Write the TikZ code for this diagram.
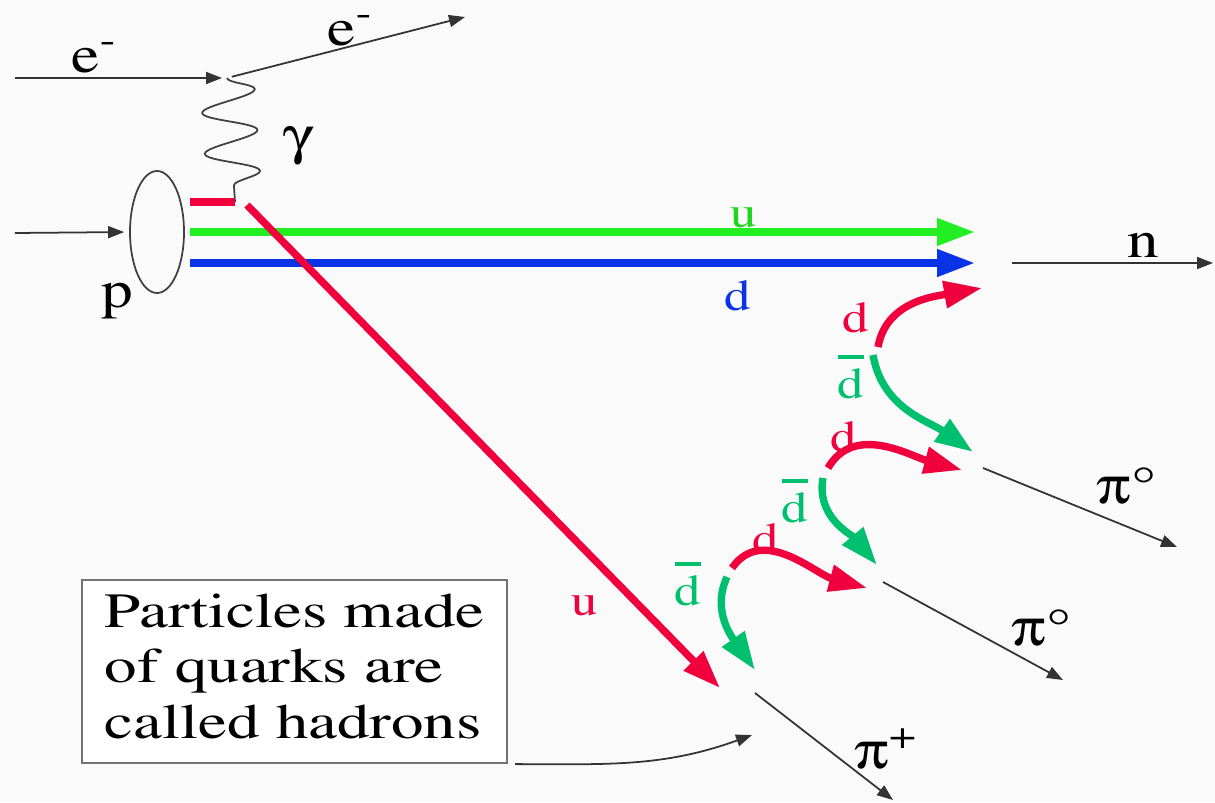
\documentclass[tikz,border=0pt]{standalone}
\usepackage[T1]{fontenc}
\usepackage{mathptmx}
\usepackage[Symbol]{upgreek}
\usepackage{graphicx}
\usetikzlibrary{arrows.meta, positioning, shapes.geometric, decorations.pathmorphing}
\definecolor{qRed}{HTML}{F0003C}
\definecolor{qLime}{HTML}{22EE22}
\definecolor{qBlue}{HTML}{0A32E6}
\definecolor{qTeal}{HTML}{00C070}
\definecolor{bgGray}{HTML}{FAFAFA}
\newcommand{\wide}[1]{\scalebox{1.2}[1]{#1}}
\newcommand{\qbar}[1]{\vbox{\hrule height 1.4pt\kern 2.5pt\hbox{#1}}}

\begin{document}
\begin{tikzpicture}[
    track/.style={line width=0.5pt, draw=black!80, -{Triangle[length=0.16cm, width=0.12cm]}},
    quark/.style={line width=2.1pt, -{Triangle[length=0.38cm, width=0.26cm]}},
    photon/.style={line width=0.5pt, draw=black!75, decorate,
        decoration={snake, amplitude=0.27cm, segment length=0.41cm}},
    lbl/.style={inner sep=0, font=\fontsize{15}{18}\selectfont},
    qlbl/.style={inner sep=0, font=\fontsize{12.5}{14}\selectfont},
    note/.style={draw=black!55, line width=0.6pt, fill=white, align=left,
        font=\fontsize{14}{15.8}\selectfont, inner sep=0,
        minimum width=4.25cm, minimum height=1.83cm}
]
    \useasboundingbox (0,0) rectangle (12.15,-8.02);
    \fill[bgGray] (0,0) rectangle (12.15,-8.02);

    % electron side
    \coordinate (eIn) at (0.15,-0.78);
    \coordinate (eV) at (2.27,-0.78);
    \coordinate (eOut) at (4.65,-0.17);
    \coordinate (qV) at (2.35,-2.02);
    \draw[track, shorten >=0.05cm] (eIn) -- (eV);
    \draw[track, shorten <=0.05cm] (eV) -- (eOut);
    \draw[photon] (eV) -- (qV);
    \node[lbl, anchor=base west] (eLeft) at (0.71,-0.72) {\wide{e\textsuperscript{-}}};
    \node[lbl, anchor=base west] (eRight) at (3.27,-0.45) {\wide{e\textsuperscript{-}}};
    \node[lbl, anchor=base west] (gam) at (2.83,-1.53) {\wide{$\upgamma$}};

    % proton and its quarks
    \node[draw=black!75, line width=0.5pt, ellipse, minimum width=0.54cm,
        minimum height=1.22cm, inner sep=0] (proton) at (1.57,-2.32) {};
    \coordinate (pIn) at (0.15,-2.33);
    \draw[track, shorten >=0.05cm] (pIn) -- (proton.west);
    \node[lbl, anchor=base west] (pLbl) at (1.01,-3.07) {\wide{p}};

    \coordinate (r0) at (1.90,-2.02);
    \coordinate (rD) at (2.47,-2.05);
    \coordinate (uEnd) at (7.20,-6.88);
    \coordinate (g0) at (1.90,-2.32);
    \coordinate (g1) at (9.75,-2.32);
    \coordinate (b0) at (1.90,-2.63);
    \coordinate (b1) at (9.75,-2.63);
    \draw[quark, qRed, -] (r0) -- (qV);
    \draw[quark, qLime] (g0) -- (g1);
    \draw[quark, qBlue] (b0) -- (b1);
    \draw[quark, qRed] (rD) -- (uEnd);
    \node[qlbl, text=qLime!90!black, anchor=base] (uG) at (7.44,-2.27) {\wide{u}};
    \node[qlbl, text=qBlue, anchor=base] (dB) at (7.38,-3.10) {\wide{d}};
    \node[qlbl, text=qRed, anchor=base] (uR) at (5.85,-6.15) {\wide{u}};

    % neutron
    \coordinate (nIn) at (10.12,-2.63);
    \coordinate (nOut) at (12.13,-2.63);
    \draw[track] (nIn) -- (nOut);
    \node[lbl, anchor=base west] (nLbl) at (11.27,-2.57) {\wide{n}};

    % d dbar pairs
    \coordinate (h1r) at (8.78,-3.47);
    \coordinate (h1rE) at (9.82,-2.88);
    \coordinate (h1g) at (8.73,-3.55);
    \coordinate (h1gE) at (9.73,-4.52);
    \coordinate (h2r) at (8.28,-4.68);
    \coordinate (h2rE) at (9.62,-4.70);
    \coordinate (h2g) at (8.23,-4.78);
    \coordinate (h2gE) at (8.77,-5.65);
    \coordinate (h3r) at (7.32,-5.68);
    \coordinate (h3rE) at (8.67,-5.88);
    \coordinate (h3g) at (7.27,-5.77);
    \coordinate (h3gE) at (7.55,-6.70);
    \draw[quark, qRed] (h1r) to[out=80, in=190] (h1rE);
    \draw[quark, qTeal] (h1g) to[out=-80, in=145] (h1gE);
    \draw[quark, qRed] (h2r) to[out=60, in=165] (h2rE);
    \draw[quark, qTeal] (h2g) to[out=-100, in=130] (h2gE);
    \draw[quark, qRed] (h3r) to[out=55, in=165] (h3rE);
    \draw[quark, qTeal] (h3g) to[out=-115, in=125] (h3gE);
    \node[qlbl, text=qRed, anchor=base] (d1) at (8.56,-3.32) {\wide{d}};
    \node[qlbl, text=qTeal, anchor=base] (db1) at (8.51,-3.98) {\wide{\qbar{d}}};
    \node[qlbl, text=qRed, anchor=base] (d2) at (8.44,-4.51) {\wide{d}};
    \node[qlbl, text=qTeal, anchor=base] (db2) at (7.95,-5.22) {\wide{\qbar{d}}};
    \node[qlbl, text=qRed, anchor=base] (d3) at (7.66,-5.53) {\wide{d}};
    \node[qlbl, text=qTeal, anchor=base] (db3) at (6.88,-6.05) {\wide{\qbar{d}}};

    % pions
    \coordinate (pi1a) at (9.83,-4.68);
    \coordinate (pi1b) at (11.77,-5.47);
    \coordinate (pi2a) at (8.83,-5.82);
    \coordinate (pi2b) at (10.63,-6.80);
    \coordinate (pi3a) at (7.55,-6.93);
    \coordinate (pi3b) at (8.93,-8.00);
    \draw[track] (pi1a) -- (pi1b);
    \draw[track] (pi2a) -- (pi2b);
    \draw[track] (pi3a) -- (pi3b);
    \node[lbl, anchor=base west] (pi1) at (10.96,-5.03) {\wide{$\uppi$\textdegree}};
    \node[lbl, anchor=base west] (pi2) at (10.11,-6.45) {\wide{$\uppi$\textdegree}};
    \node[lbl, anchor=base west] (pi3) at (8.54,-7.68) {\wide{$\uppi$\textsuperscript{+}}};

    % note
    \node[note, anchor=north west] (note) at (0.81,-5.79)
        {\scalebox{1.32}[1]{\begin{tabular}{@{}l@{}}Particles made\\of quarks are\\called hadrons\end{tabular}}};
    \coordinate (hadr) at (7.52,-7.35);
    \draw[track, shorten <=0.07cm] (note.south east) to[out=0, in=200] (hadr);
\end{tikzpicture}
\end{document}
